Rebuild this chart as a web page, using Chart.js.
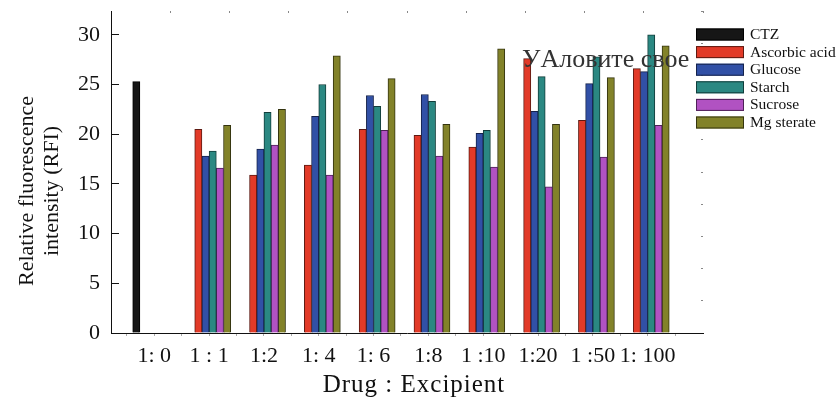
<!DOCTYPE html>
<html>
<head>
<meta charset="utf-8">
<script src="https://cdn.jsdelivr.net/npm/chart.js@4/dist/chart.umd.min.js"></script>
<style>
  html, body { margin: 0; padding: 0; background: #fff; }
  #wrap { position: relative; width: 838px; height: 400px; }
</style>
</head>
<body>
<div id="wrap"><canvas id="rfi" width="838" height="400"></canvas></div>
<script>
// Drug : Excipient ratios
const categories = ['1: 0', '1 : 1', '1:2', '1: 4', '1: 6', '1:8', '1 :10', '1:20', '1 :50', '1: 100'];

// Relative fluorescence intensity per excipient
const seriesNames = ['CTZ', 'Ascorbic acid', 'Glucose', 'Starch', 'Sucrose', 'Mg sterate'];
const ctzValues      = [25.3, null, null, null, null, null, null, null, null, null];
const ascorbicValues = [null, 20.5, 15.9, 16.9, 20.5, 19.9, 18.7, 27.6, 21.4, 26.6];
const glucoseValues  = [null, 17.8, 18.5, 21.8, 23.9, 24.0, 20.1, 22.3, 25.1, 26.3];
const starchValues   = [null, 18.3, 22.2, 25.0, 22.8, 23.3, 20.4, 25.8, 27.8, 30.0];
const sucroseValues  = [null, 16.6, 18.9, 15.9, 20.4, 17.8, 16.7, 14.7, 17.7, 20.9];
const mgValues       = [null, 20.9, 22.5, 27.9, 25.6, 21.0, 28.6, 21.0, 25.7, 28.9];

const yTickValues = [0, 5, 10, 15, 20, 25, 30];

const fillColors   = ['#161616', '#e23a28', '#3150a6', '#2b8882', '#b152c2', '#828229'];
const strokeColors = ['#000000', '#5e1a12', '#15224a', '#123d3a', '#4e2157', '#34340f'];

const SERIF = '"Liberation Serif", "DejaVu Serif", serif';

const allValues = [ctzValues, ascorbicValues, glucoseValues, starchValues, sucroseValues, mgValues];

const toPoints = vals => vals
  .map((v, i) => ({ x: i, y: v }))
  .filter(p => p.y !== null);

const datasets = seriesNames.map((name, i) => ({
  label: name,
  data: toPoints(allValues[i]),
  backgroundColor: fillColors[i],
  borderColor: strokeColors[i],
  borderWidth: 1,
  barThickness: 7.2
}));

// fixed axis boxes: no extra label padding around the plot
const noPad = s => { s.paddingTop = 0; s.paddingBottom = 0; s.paddingLeft = 0; s.paddingRight = 0; };

// Titles, legend and the floating caption, drawn on top of the plot
const annotations = {
  id: 'annotations',
  afterDraw(chart) {
    const ctx = chart.ctx;
    ctx.save();
    ctx.fillStyle = '#111';

    // y title (two lines, rotated)
    ctx.font = '22px ' + SERIF;
    ctx.textAlign = 'center';
    ctx.textBaseline = 'alphabetic';
    [['Relative fluorescence', 33], ['intensity (RFI)', 57.5]].forEach(([t, x]) => {
      ctx.save();
      ctx.translate(x, 191);
      ctx.rotate(-Math.PI / 2);
      ctx.fillText(t, 0, 0);
      ctx.restore();
    });

    // x title
    ctx.font = '25px ' + SERIF;
    ctx.letterSpacing = '1px';
    ctx.fillText('Drug : Excipient', 414, 392);
    ctx.letterSpacing = '0px';

    // caption
    ctx.fillStyle = '#333';
    ctx.textAlign = 'left';
    ctx.font = '26px ' + SERIF;
    ctx.fillText('УAловите свое', 522, 67);

    // legend
    ctx.font = '15.5px ' + SERIF;
    ctx.textBaseline = 'middle';
    chart.data.datasets.forEach((ds, i) => {
      const y = 28.5 + 17.6 * i;
      ctx.fillStyle = ds.backgroundColor;
      ctx.fillRect(696, y, 48, 12);
      ctx.strokeStyle = ds.borderColor;
      ctx.lineWidth = 1;
      ctx.strokeRect(696.5, y + 0.5, 47, 11);
      ctx.fillStyle = '#111';
      ctx.fillText(ds.label, 750, y + 6.5);
    });
    ctx.restore();
  }
};

new Chart(document.getElementById('rfi'), {
  type: 'bar',
  data: { datasets },
  options: {
    responsive: false,
    animation: false,
    devicePixelRatio: 1,
    layout: { padding: 0 },
    plugins: {
      legend: { display: false },
      tooltip: { enabled: false }
    },
    scales: {
      x: {
        type: 'linear',
        position: 'bottom',
        offset: false,
        min: -0.79,
        max: 10.01,
        afterBuildTicks: axis => {
          const t = [];
          categories.forEach((_, i) => { t.push({ value: i - 0.5 }); t.push({ value: i }); });
          t.push({ value: categories.length - 0.5 });
          axis.ticks = t;
        },
        afterFit: s => { s.height = 67; noPad(s); },
        grid: { drawOnChartArea: false, offset: false, color: '#aaa', tickLength: 3 },
        border: { color: '#111', width: 1 },
        ticks: {
          autoSkip: false,
          maxRotation: 0,
          minRotation: 0,
          padding: 7,
          color: '#111',
          font: { family: SERIF, size: 22 },
          callback: v => Number.isInteger(v) ? categories[v] : ''
        }
      },
      xTop: {
        type: 'linear',
        position: 'top',
        offset: false,
        min: 0,
        max: 10,
        afterFit: s => { s.height = 11; noPad(s); },
        grid: { drawOnChartArea: false, offset: false, color: '#888', tickLength: -2 },
        border: { display: false },
        ticks: { display: false, stepSize: 1 }
      },
      y: {
        type: 'linear',
        position: 'left',
        min: 0,
        max: 32.4,
        afterBuildTicks: axis => { axis.ticks = yTickValues.map(v => ({ value: v })); },
        afterFit: s => { s.width = 111; noPad(s); },
        grid: { drawOnChartArea: false, color: '#111', tickLength: -8 },
        border: { color: '#111', width: 1 },
        ticks: {
          padding: 19,
          color: '#111',
          font: { family: SERIF, size: 22 }
        }
      },
      yRight: {
        type: 'linear',
        position: 'right',
        min: 0,
        max: 10,
        afterFit: s => { s.width = 135; noPad(s); },
        grid: { drawOnChartArea: false, color: '#888', tickLength: -2 },
        border: { display: false },
        ticks: { display: false, stepSize: 1 }
      }
    }
  },
  plugins: [annotations]
});
</script>
</body>
</html>
